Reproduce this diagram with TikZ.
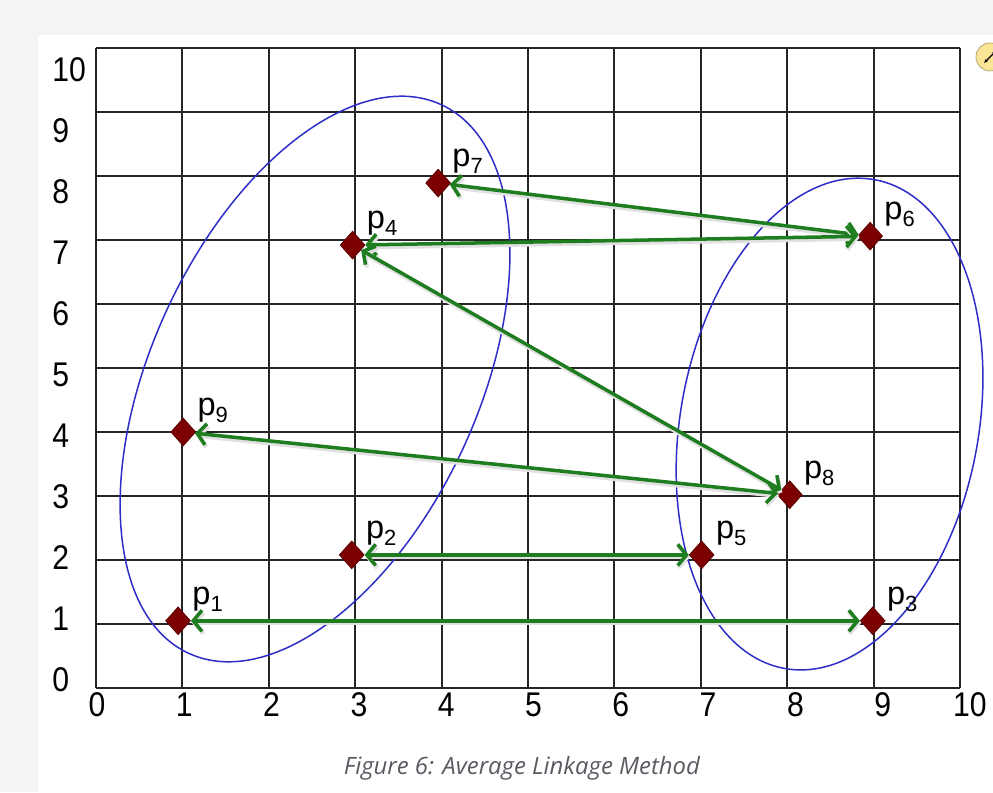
\documentclass[tikz,border=0pt]{standalone}
\usepackage{fontspec}
\setmainfont{Liberation Sans}
\newfontfamily\captionfont{Open Sans}
\usetikzlibrary{arrows.meta, positioning, shapes.geometric}
\definecolor{maroon}{RGB}{125,0,0}
\definecolor{linkgreen}{RGB}{30,125,30}
\definecolor{ringblue}{RGB}{45,45,200}
\definecolor{pagegray}{RGB}{244,244,244}
\definecolor{capgray}{RGB}{88,92,98}
\definecolor{iconyellow}{RGB}{250,228,150}
\newcommand{\plab}[1]{p\raisebox{-4pt}{\fontsize{12.5}{12.5}\selectfont #1}}
\newcommand{\narrow}[1]{\scalebox{0.88}[1]{#1}}

\begin{document}
\begin{tikzpicture}[
  x=1.728cm, y=1.28cm,
  gridline/.style = {black!85, line width=1.05pt},
  tick/.style     = {inner sep=0pt, font=\fontsize{19.5}{19.5}\selectfont},
  datapt/.style   = {diamond, fill=maroon, draw=maroon!70!black, line width=0.4pt,
                     minimum width=0.5cm, minimum height=0.56cm, inner sep=0pt},
  plabel/.style   = {inner sep=0pt, font=\fontsize{18.5}{18.5}\selectfont},
  link/.style     = {{Straight Barb[length=5pt,width=12pt]}-{Straight Barb[length=5pt,width=12pt]},
                     linkgreen, line width=2pt,
                     preaction={draw=black!12, line width=2.4pt,
                                transform canvas={shift={(0.6pt,-1.4pt)}}}},
  ring/.style     = {ringblue, line width=0.85pt}
]
\useasboundingbox (-1.111,-1.625) rectangle (10.382,10.75);
\fill[pagegray] (-1.111,-1.625) rectangle (10.382,10.75);
\fill[white] (-0.671,-1.625) rectangle (10.382,10.203);

\foreach \i in {0,...,10} {
  \draw[gridline] (\i,0) -- (\i,10);
  \draw[gridline] (0,\i) -- (10,\i);
}
\foreach \i in {0,...,10} {
  \node[tick, anchor=west] (ylab\i) at (-0.509, {0.125+0.9531*\i}) {\narrow{\i}};
  \node[tick] (xlab\i) at ({0.0116+1.0104*\i}, -0.266) {\narrow{\i}};
}

\coordinate (lc) at (2.535,4.828);
\coordinate (rc) at (8.49,4.125);
\draw[ring, rotate around={65.3:(lc)}] (lc) ellipse [x radius=6.04cm, y radius=3.27cm];
\draw[ring, rotate around={79.5:(rc)}] (rc) ellipse [x radius=4.97cm, y radius=2.98cm];

\node[datapt] (p1) at (0.95,1.05) {};
\node[datapt] (p2) at (2.96,2.08) {};
\node[datapt] (p3) at (8.99,1.05) {};
\node[datapt] (p4) at (2.97,6.92) {};
\node[datapt] (p5) at (7.01,2.08) {};
\node[datapt] (p6) at (8.96,7.06) {};
\node[datapt] (p7) at (3.96,7.89) {};
\node[datapt] (p8) at (8.03,3.02) {};
\node[datapt] (p9) at (1.01,4.00) {};

\draw[link] (p7) -- (p6);
\draw[link] (p4) -- (p6);
\draw[link] (p4) -- (p8);
\draw[link] (p9) -- (p8);
\draw[link] (p2) -- (p5);
\draw[link] (p1) -- (p3);

\foreach \k in {1,...,9} {
  \node[plabel, above right=0.18cm and 0.28cm of p\k.center] (l\k) {\plab{\k}};
}

\node[circle, fill=iconyellow, draw=iconyellow!70!black, line width=0.4pt,
      minimum size=0.56cm] (expand) at (10.347,9.86) {};
\draw[{Stealth[length=2.5pt]}-{Stealth[length=2.5pt]}, line width=0.7pt]
  ([shift={(-0.12cm,-0.12cm)}]expand.center) -- ([shift={(0.12cm,0.12cm)}]expand.center);

\node[font=\captionfont\itshape\fontsize{13.6}{13.6}\selectfont, text=capgray]
  (caption) at (4.93,-1.25) {Figure 6: Average Linkage Method};
\end{tikzpicture}
\end{document}
